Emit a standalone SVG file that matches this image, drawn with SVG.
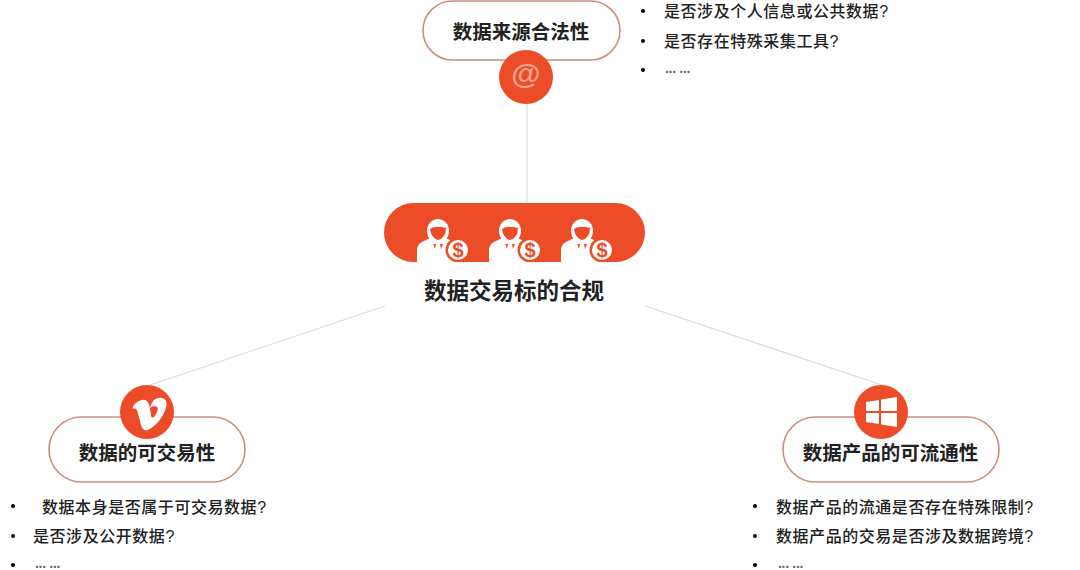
<svg xmlns="http://www.w3.org/2000/svg" width="1080" height="570" viewBox="0 0 1080 570">
<style>
text{font-family:"Liberation Sans","Noto Sans CJK SC",sans-serif;fill:#222}
.t{font-weight:700;font-size:19.5px;text-anchor:middle;dominant-baseline:central}
.b{font-size:16px;font-weight:500;dominant-baseline:central;letter-spacing:.55px}
.e{font-size:14px;font-weight:700;fill:#666;letter-spacing:-.3px;dominant-baseline:central}
.pill{fill:#fff;stroke:#c98f7c;stroke-width:1.6}
.c{stroke:#dcdcdc;stroke-width:1.2;fill:none}
.w{fill:#fff}
.o{fill:#ec4c27}
</style>
<defs>
<g id="person">
<path class="w" d="M-21 30V17Q-20 11-14 9L-6 5L0 11L6 5L12 8Q16 10 17 14V30Z"/>
<ellipse class="w" cx="0" cy="-1" rx="11" ry="12"/>
<path class="o" d="M-8-3Q-3-7 8-4Q8 6 0 8Q-7 6-8-3Z"/>
<path class="o" d="M-5 12l2 5 1-5zM2 12l1 5 2-5z"/>
<circle class="o" cx="20" cy="18" r="12.500"/>
<circle class="w" cx="20" cy="18" r="10"/>
<text x="20" y="25" style="fill:#ec4c27;font-size:20px;font-weight:700;text-anchor:middle">$</text>
</g>
</defs>
<rect width="1080" height="570" fill="#fff"/>
<g id="connectors">
<line class="c" x1="527" y1="104" x2="527" y2="203"/>
<line class="c" x1="385" y1="306" x2="150" y2="385"/>
<line class="c" x1="645" y1="306" x2="885" y2="386"/>
</g>
<g id="center">
<rect class="o" x="384" y="203" width="261" height="59" rx="29.500"/>
<use href="#person" x="438" y="232"/>
<use href="#person" x="510" y="232"/>
<use href="#person" x="582" y="232"/>
<rect class="w" x="410" y="262" width="210" height="6"/>
<text class="t" x="514" y="291" style="font-size:22.500px">数据交易标的合规</text>
</g>
<g id="source">
<rect class="pill" x="423" y="1" width="197" height="59" rx="29.500"/>
<text class="t" x="521" y="32">数据来源合法性</text>
<circle class="o" cx="526" cy="77" r="27"/>
<text x="526" y="84" style="fill:#eea28c;font-size:30px;font-weight:700;text-anchor:middle">@</text>
<g>
<circle cx="643" cy="11" r="2"/><text class="b" x="664" y="11">是否涉及个人信息或公共数据?</text>
<circle cx="643" cy="41" r="2"/><text class="b" x="664" y="41">是否存在特殊采集工具?</text>
<circle cx="643" cy="70" r="2"/><text class="e" x="665" y="68">... ...</text>
</g>
</g>
<g id="tradable">
<rect class="pill" x="49" y="417" width="196" height="65" rx="32.500"/>
<circle class="o" cx="147" cy="412" r="27"/>
<path class="w" d="M133 406Q141 397 147 401Q150 404 151 416Q153 420 156 414Q160 407 155 406Q152 406 150 408Q153 396 162 398Q170 400 164 413Q158 425 148 430Q143 432 141 425L137 410Q135 407 133 409Z"/>
<text class="t" x="147" y="453">数据的可交易性</text>
<g>
<circle cx="13" cy="506" r="2"/><text class="b" x="42" y="507">数据本身是否属于可交易数据?</text>
<circle cx="13" cy="536" r="2"/><text class="b" x="33" y="536">是否涉及公开数据?</text>
<circle cx="13" cy="565" r="2"/><text class="e" x="35" y="563">... ...</text>
</g>
</g>
<g id="circulation">
<rect class="pill" x="783" y="417" width="216" height="65" rx="32.500"/>
<circle class="o" cx="881" cy="412" r="27"/>
<path class="w" d="M866 402L879 400V411H866ZM881 399.500L897 397V411H881ZM866 413H879V424L866 422ZM881 413H897V427L881 424.500Z"/>
<text class="t" x="890.500" y="453">数据产品的可流通性</text>
<g>
<circle cx="755" cy="506" r="2"/><text class="b" x="776" y="507">数据产品的流通是否存在特殊限制?</text>
<circle cx="755" cy="536" r="2"/><text class="b" x="776" y="536">数据产品的交易是否涉及数据跨境?</text>
<circle cx="755" cy="565" r="2"/><text class="e" x="778" y="563">... ...</text>
</g>
</g>
</svg>
